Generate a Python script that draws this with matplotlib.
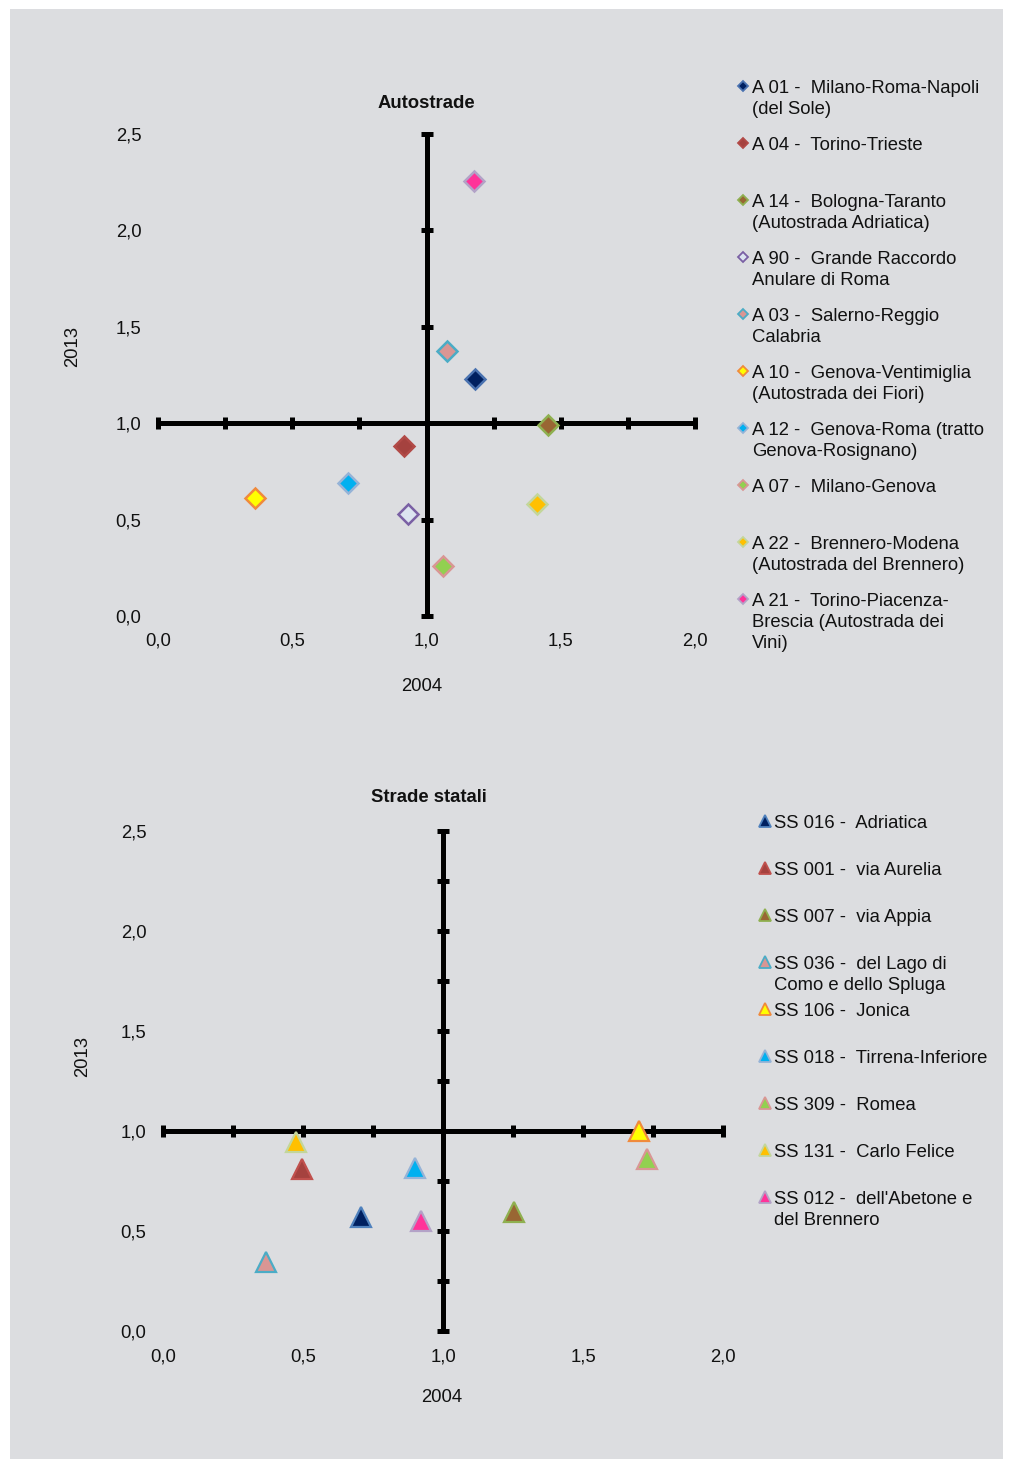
import numpy as np
import matplotlib
matplotlib.use("Agg")
import matplotlib.pyplot as plt
from matplotlib.lines import Line2D
from matplotlib.patches import Rectangle
from matplotlib.ticker import FuncFormatter, MultipleLocator

plt.rcParams["font.family"] = ["Liberation Sans", "DejaVu Sans"]
FS = 13.3
TXT = "#111111"
BG = "#dcdde0"

# ---- Autostrade: indice 2004 (x) e 2013 (y) ----
auto_labels = [
    "A 01 -  Milano-Roma-Napoli\n(del Sole)",
    "A 04 -  Torino-Trieste",
    "A 14 -  Bologna-Taranto\n(Autostrada Adriatica)",
    "A 90 -  Grande Raccordo\nAnulare di Roma",
    "A 03 -  Salerno-Reggio\nCalabria",
    "A 10 -  Genova-Ventimiglia\n(Autostrada dei Fiori)",
    "A 12 -  Genova-Roma (tratto\nGenova-Rosignano)",
    "A 07 -  Milano-Genova",
    "A 22 -  Brennero-Modena\n(Autostrada del Brennero)",
    "A 21 -  Torino-Piacenza-\nBrescia (Autostrada dei\nVini)",
]
auto_2004 = [1.18, 0.916, 1.453, 0.93, 1.076, 0.361, 0.708, 1.061, 1.412, 1.177]
auto_2013 = [1.228, 0.88, 0.99, 0.528, 1.373, 0.611, 0.689, 0.259, 0.58, 2.254]
auto_face = ["#002060", "#a5423f", "#996633", "#dce4f0", "#d99694",
             "#ffff00", "#00b0f0", "#92d050", "#ffc000", "#ff3399"]
auto_edge = ["#4a72b0", "#b24a47", "#8fb050", "#7a60a4", "#4bacc6",
             "#f08a3c", "#95b3d7", "#d99694", "#c3d69b", "#b3a2c7"]

# ---- Strade statali ----
ss_labels = [
    "SS 016 -  Adriatica",
    "SS 001 -  via Aurelia",
    "SS 007 -  via Appia",
    "SS 036 -  del Lago di\nComo e dello Spluga",
    "SS 106 -  Jonica",
    "SS 018 -  Tirrena-Inferiore",
    "SS 309 -  Romea",
    "SS 131 -  Carlo Felice",
    "SS 012 -  dell'Abetone e\ndel Brennero",
]
ss_2004 = [0.707, 0.496, 1.254, 0.368, 1.70, 0.90, 1.729, 0.475, 0.921]
ss_2013 = [0.57, 0.81, 0.595, 0.345, 1.0, 0.815, 0.86, 0.945, 0.55]
ss_face = ["#002060", "#a5423f", "#996633", "#d99694", "#ffff00",
           "#00b0f0", "#92d050", "#ffc000", "#ff3399"]
ss_edge = ["#4f81bd", "#c0504d", "#8fb050", "#4bacc6", "#f08a3c",
           "#95b3d7", "#d99694", "#c3d69b", "#b3a2c7"]

W, H = 1013, 1469
fig = plt.figure(figsize=(W / 100, H / 100), dpi=100, facecolor="white")
fig.add_artist(Rectangle((10 / W, 10 / H), 993 / W, 1450 / H,
                         transform=fig.transFigure, facecolor=BG,
                         edgecolor="none", zorder=-10))


def fx(px):
    return px / W


def fy(py):
    return 1 - py / H


comma = FuncFormatter(lambda v, p: f"{v:.1f}".replace(".", ","))


def quadrant_axes(rect, vstep, hstep, title, title_xy, ylab_xy, xlab_xy, xpad):
    ax = fig.add_axes(rect)
    ax.set_facecolor("none")
    ax.set_xlim(0, 2)
    ax.set_ylim(0, 2.5)
    for s in ax.spines.values():
        s.set_visible(False)
    ax.xaxis.set_major_locator(MultipleLocator(0.5))
    ax.yaxis.set_major_locator(MultipleLocator(0.5))
    ax.xaxis.set_major_formatter(comma)
    ax.yaxis.set_major_formatter(comma)
    ax.tick_params(length=0, labelsize=FS, colors=TXT)
    ax.tick_params(axis="y", pad=12)
    ax.tick_params(axis="x", pad=xpad)
    ref = 1.0
    ax.axhline(ref, color="black", lw=3.6, zorder=2, clip_on=False)
    ax.axvline(ref, color="black", lw=3.6, zorder=2, clip_on=False)
    hx = np.arange(0, 2.0001, hstep)
    ax.plot(hx, np.full_like(hx, ref), ls="none", marker="|", ms=8,
            mew=3.6, color="black", zorder=2, clip_on=False)
    vy = np.arange(0, 2.5001, vstep)
    ax.plot(np.full_like(vy, ref), vy, ls="none", marker="_", ms=8,
            mew=3.6, color="black", zorder=2, clip_on=False)
    fig.text(fx(title_xy[0]), fy(title_xy[1]), title, ha="center",
             va="center", fontsize=FS, fontweight="bold", color=TXT)
    fig.text(fx(ylab_xy[0]), fy(ylab_xy[1]), "2013", ha="center",
             va="center", rotation=90, fontsize=FS, color=TXT)
    fig.text(fx(xlab_xy[0]), fy(xlab_xy[1]), "2004", ha="center",
             va="center", fontsize=FS, color=TXT)
    return ax


def legend_column(labels, faces, edges, marker, ms, mx, tx, y0, step):
    for i, (lab, fc, ec) in enumerate(zip(labels, faces, edges)):
        yc = y0 + i * step
        fig.add_artist(Line2D([fx(mx)], [fy(yc)], marker=marker, ms=ms,
                              mfc=fc, mec=ec, mew=1.3, ls="none",
                              transform=fig.transFigure))
        fig.text(fx(tx), fy(yc - 6), lab, ha="left", va="top",
                 fontsize=FS, color=TXT, linespacing=1.32)


# top chart
ax1 = quadrant_axes([fx(158), fy(616), (695 - 158) / W, (616 - 134) / H],
                    0.5, 0.25, "Autostrade", (426, 103), (73, 346), (422, 686), 12)
for x, y, fc, ec in zip(auto_2004, auto_2013, auto_face, auto_edge):
    ax1.plot(x, y, ls="none", marker="D", ms=9.8, mfc=fc, mec=ec,
             mew=1.8, zorder=3, clip_on=False)
legend_column(auto_labels, auto_face, auto_edge, "D", 5.2, 743, 752, 86, 57)

# bottom chart
ax2 = quadrant_axes([fx(163), fy(1331), (723 - 163) / W, (1331 - 831) / H],
                    0.25, 0.25, "Strade statali", (429, 797), (83, 1056), (442, 1398), 12.5)
for x, y, fc, ec in zip(ss_2004, ss_2013, ss_face, ss_edge):
    ax2.plot(x, y, ls="none", marker="^", ms=14, mfc=fc, mec=ec,
             mew=1.6, zorder=3, clip_on=False)
legend_column(ss_labels, ss_face, ss_edge, "^", 8, 765, 774, 821, 47)

fig.savefig("out.png", dpi=100, facecolor="white")
